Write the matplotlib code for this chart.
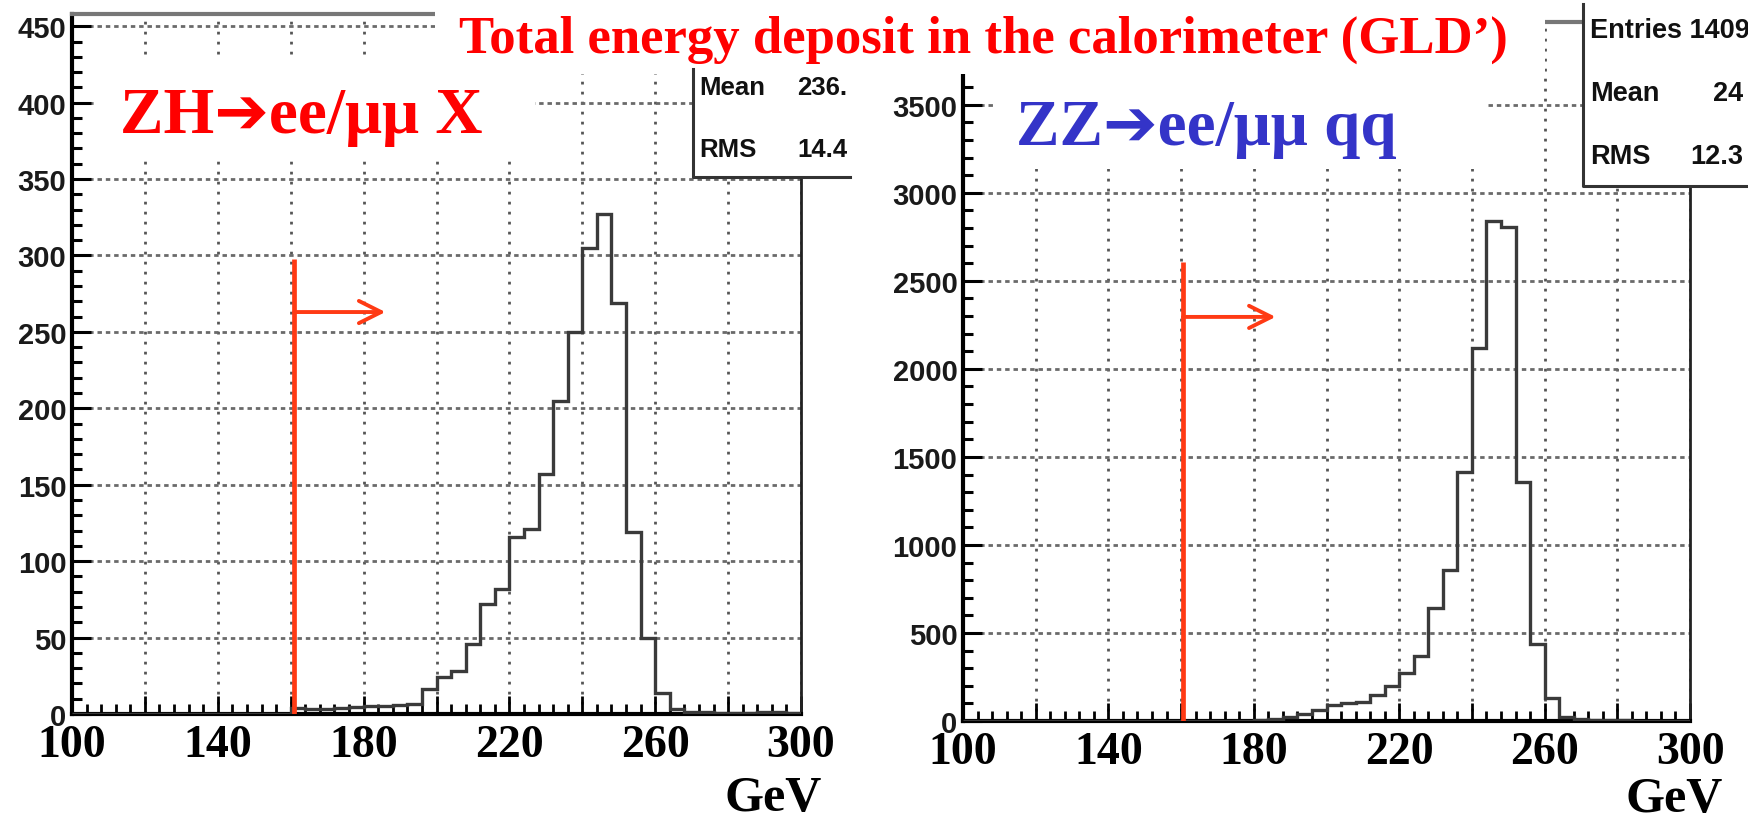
import numpy as np
import matplotlib
matplotlib.use('Agg')
import matplotlib.pyplot as plt
from matplotlib.patches import Rectangle
from matplotlib.lines import Line2D

# Data (4 GeV bins from 100 to 300 GeV)
bin_lo, bin_hi, bin_w = 100, 300, 4
zh_counts = [0, 0, 0, 0, 0, 0, 0, 0, 0, 0,
             0, 0, 0, 0, 0,
             4, 3, 3, 4, 4.5, 5, 5, 6, 6.5, 16.5,
             24, 28, 46, 72, 82, 116, 121, 157, 205, 250,
             305, 327, 269, 119, 50, 14, 3, 1, 1, 0.5,
             0.5, 0.5, 1, 1.5, 0.5]
zz_counts = [0, 0, 0, 0, 0, 0, 0, 0, 0, 0,
             0, 0, 0, 0, 0, 0, 0, 0, 1, 2,
             5, 14, 25, 40, 60, 90, 100, 108, 145, 200,
             270, 370, 643, 857, 1412, 2116, 2840, 2805, 1360, 435,
             130, 25, 12, 7, 5, 3, 2, 2, 1, 1]
x_ticks = [100, 120, 140, 160, 180, 200, 220, 240, 260, 280, 300]
x_labels = ['100', '', '140', '', '180', '', '220', '', '260', '', '300']
zh_ymax, zh_ystep, zh_yminor = 458, 50, 10
zz_ymax, zz_ystep, zz_yminor = 3970, 500, 100
zh_cut, zh_cut_top, zh_arrow_y = 161, 298, 263
zz_cut, zz_cut_top, zz_arrow_y = 160.5, 2608, 2295
arrow_end = 186
zh_stats = [('Mean', '236.'), ('RMS', '14.4')]
zz_stats = [('Entries 1409', ''), ('Mean', '24'), ('RMS', '12.3')]

title = 'Total energy deposit in the calorimeter (GLD\u2019)'
zh_label = 'ZH\u2794ee/\u03bc\u03bc X'
zz_label = 'ZZ\u2794ee/\u03bc\u03bc qq'

W, H = 1748, 820
RED = '#ff0000'
CUT = '#ff3a14'
BLUE = '#3434c8'
SERIF = ['Liberation Serif', 'DejaVu Serif', 'DejaVu Sans']
SANS = ['Liberation Sans', 'DejaVu Sans']


def fx(px):
    return px / W


def fy(py):
    return 1 - py / H


fig = plt.figure(figsize=(W / 100, H / 100), dpi=100)
edges = np.arange(bin_lo, bin_hi + 1, bin_w)


def panel(x0, x1, y_top, y_bot, counts, ymax, ystep, yminor, cut, cut_top, arrow_y):
    ax = fig.add_axes([fx(x0), fy(y_bot), (x1 - x0) / W, (y_bot - y_top) / H])
    ax.stairs(counts, edges, color='#3a3a3a', lw=2.4, zorder=3)
    ax.set_xlim(bin_lo, bin_hi)
    ax.set_ylim(0, ymax)
    ax.set_xticks(x_ticks)
    ax.set_xticklabels(x_labels)
    ax.set_xticks(edges, minor=True)
    ax.set_yticks(np.arange(0, ymax, ystep))
    ax.set_yticks(np.arange(0, ymax, yminor), minor=True)
    ax.xaxis.grid(True, which='major', ls=(0, (1, 2.6)), lw=2.0, color='#555555')
    ax.yaxis.grid(True, which='major', ls=(0, (1.6, 1.4)), lw=2.0, color='#6a6a6a')
    ax.tick_params(axis='x', which='major', direction='in', length=13, width=2.0, pad=7)
    ax.tick_params(axis='x', which='minor', direction='in', length=7, width=2.0)
    ax.tick_params(axis='y', which='major', direction='in', length=14, width=2.2, pad=4)
    ax.tick_params(axis='y', which='minor', direction='in', length=7, width=2.2)
    for lab in ax.get_xticklabels():
        lab.set_fontfamily(SERIF)
        lab.set_fontweight('bold')
        lab.set_fontsize(33)
    for lab in ax.get_yticklabels():
        lab.set_fontfamily(SANS)
        lab.set_fontweight('bold')
        lab.set_fontsize(21)
        lab.set_color('#1a1a1a')
    ax.spines['left'].set_linewidth(3)
    ax.spines['bottom'].set_linewidth(3)
    ax.spines['right'].set_linewidth(2)
    ax.spines['right'].set_color('#222222')
    ax.spines['top'].set_linewidth(3)
    ax.spines['top'].set_color('#777777')
    ax.plot([cut, cut], [0, cut_top], color=CUT, lw=3.4, zorder=4, solid_capstyle='butt')
    ax.annotate('', xy=(arrow_end, arrow_y), xytext=(cut, arrow_y),
                arrowprops=dict(arrowstyle='->', color=CUT, lw=2.8, mutation_scale=40,
                                shrinkA=0, shrinkB=0), zorder=4)
    return ax


ax1 = panel(72, 801, 15, 715, zh_counts, zh_ymax, zh_ystep, zh_yminor, zh_cut, zh_cut_top, zh_arrow_y)
ax2 = panel(963, 1690, 23, 722, zz_counts, zz_ymax, zz_ystep, zz_yminor, zz_cut, zz_cut_top, zz_arrow_y)


def white_box(x0, x1, y0, y1, z=2):
    fig.patches.append(Rectangle((fx(x0), fy(y1)), (x1 - x0) / W, (y1 - y0) / H,
                                 transform=fig.transFigure, facecolor='white',
                                 edgecolor='none', zorder=z))


def fig_line(xs, ys, **kw):
    fig.lines.append(Line2D([fx(v) for v in xs], [fy(v) for v in ys],
                            transform=fig.transFigure, **kw))


# title / labels sit on white boxes that hide part of the frames
white_box(435, 1545, 0, 75)
white_box(97, 535, 60, 157)
white_box(994, 1487, 77, 170)

# stats boxes
white_box(693, 850, 60, 178)
fig_line([693, 693, 850], [70, 178, 178], color='#333333', lw=2.2, zorder=2.5)
for i, (k, v) in enumerate(zh_stats):
    yb = 95 + i * 62
    fig.text(fx(699), fy(yb), k, fontsize=18.5, fontweight='bold', family=SANS,
             color='#111111', va='baseline', zorder=3)
    fig.text(fx(797), fy(yb), v, fontsize=18.5, fontweight='bold', family=SANS,
             color='#111111', va='baseline', zorder=3)

white_box(1583, 1748, 5, 187)
fig_line([1583, 1583, 1748], [5, 187, 187], color='#333333', lw=2.2, zorder=2.5)
zz_val_x = [None, 1713, 1690]
for i, (k, v) in enumerate(zz_stats):
    yb = 38 + i * 63
    fig.text(fx(1590), fy(yb), k, fontsize=19.5, fontweight='bold', family=SANS,
             color='#111111', va='baseline', zorder=3)
    if v:
        fig.text(fx(zz_val_x[i]), fy(yb), v, fontsize=19.5, fontweight='bold', family=SANS,
                 color='#111111', va='baseline', zorder=3)

fig.text(fx(983), fy(53), title, fontsize=38, fontweight='bold', family=SERIF,
         color=RED, ha='center', va='baseline', zorder=5)
fig.text(fx(120), fy(133), zh_label, fontsize=47, fontweight='bold', family=SERIF,
         color=RED, ha='left', va='baseline', zorder=5)
fig.text(fx(1016), fy(145), zz_label, fontsize=47, fontweight='bold', family=SERIF,
         color=BLUE, ha='left', va='baseline', zorder=5)
fig.text(fx(822), fy(811), 'GeV', fontsize=36, fontweight='bold', family=SERIF,
         color='black', ha='right', va='baseline', zorder=5)
fig.text(fx(1723), fy(812), 'GeV', fontsize=36, fontweight='bold', family=SERIF,
         color='black', ha='right', va='baseline', zorder=5)

fig.savefig('out.png', dpi=100)
